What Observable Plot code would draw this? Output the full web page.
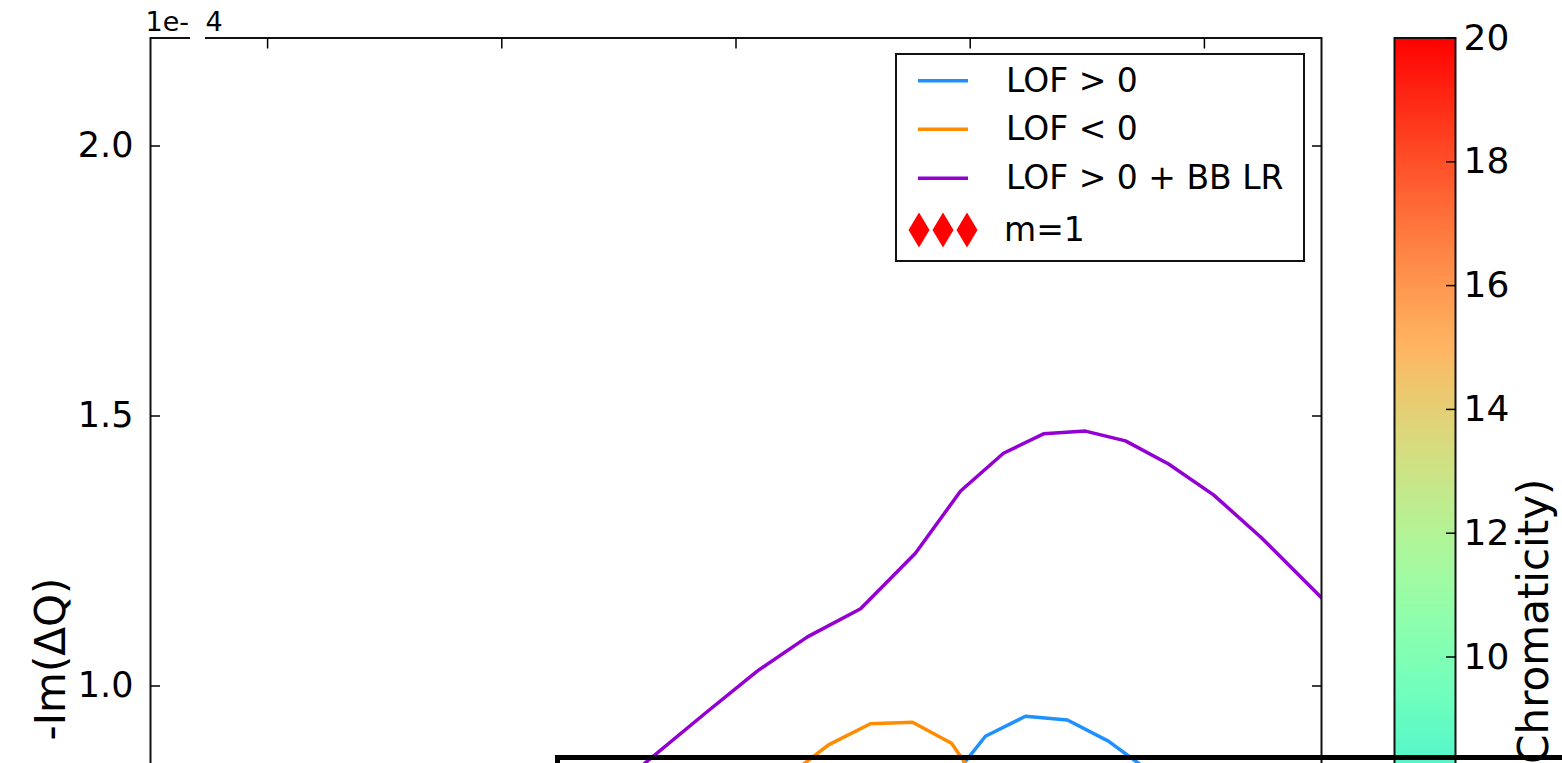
<!DOCTYPE html>
<html><head><meta charset="utf-8">
<script src="https://cdn.jsdelivr.net/npm/d3@7"></script>
<script src="https://cdn.jsdelivr.net/npm/@observablehq/plot@0.6"></script>
<style>
html,body{margin:0;padding:0;background:#fff;overflow:hidden;width:1562px;height:763px;}
#wrap{position:relative;width:1562px;height:763px;overflow:hidden;font-family:"DejaVu Sans",sans-serif;background:#fff;}
#wrap > svg, #wrap > div{position:absolute;}
</style></head>
<body><div id="wrap"></div>
<script>
// ---- data (x in plot units, y in units of 1e-4) ----
const lofPosX = [0.877, 1.065, 1.236, 1.415, 1.590, 1.885];
const lofPosY = [0.804, 0.907, 0.944, 0.937, 0.898, 0.804];
const lofNegX = [0.134, 0.395, 0.574, 0.754, 0.920, 1.065];
const lofNegY = [0.804, 0.891, 0.930, 0.933, 0.894, 0.804];
const lofBBX = [-0.579, -0.130, 0.092, 0.305, 0.532, 0.766, 0.959, 1.142, 1.313, 1.492, 1.663, 1.847, 2.039, 2.240, 2.667];
const lofBBY = [0.789, 0.950, 1.028, 1.091, 1.143, 1.246, 1.361, 1.431, 1.467, 1.472, 1.454, 1.411, 1.354, 1.276, 1.091];
const seriesNames = ["LOF > 0", "LOF < 0", "LOF > 0 + BB LR"];
const seriesColors = ["#1e90ff", "#ff8c00", "#9400d3"];
const markerLabel = "m=1";
const yTicks = [1.0, 1.5, 2.0];
const xTicks = [-2, -1, 0, 1, 2];
const cbTicks = [10, 12, 14, 16, 18, 20];
const cbDomain = [0, 20];

function mplRainbow(t) {
  const r = Math.min(1, Math.abs(2 * t - 0.5));
  const g = Math.max(0, Math.sin(Math.PI * t));
  const b = Math.max(0, Math.cos(Math.PI * t / 2));
  return `rgb(${Math.round(r * 255)},${Math.round(g * 255)},${Math.round(b * 255)})`;
}

const toRows = (xs, ys) => xs.map((x, i) => ({x, y: ys[i]}));
const series = [toRows(lofPosX, lofPosY), toRows(lofNegX, lofNegY), toRows(lofBBX, lofBBY)];

const wrap = document.getElementById("wrap");
const font = "DejaVu Sans";

const main = Plot.plot({
  width: 1340, height: 1330,
  marginLeft: 150, marginRight: 19, marginTop: 37.5, marginBottom: 50.5,
  x: {domain: [-2.5, 2.5]},
  y: {domain: [-0.1, 2.2]},
  style: {fontFamily: font, fontSize: "35px", color: "#000", background: "transparent", overflow: "visible"},
  marks: [
    ...series.map((d, i) => Plot.line(d, {x: "x", y: "y", stroke: seriesColors[i], strokeWidth: 3.5, clip: true})),
    Plot.frame({stroke: "#111", strokeWidth: 2}),
    Plot.axisY(yTicks, {anchor: "left", tickSize: -10, tickPadding: 27, tickFormat: d3.format(".1f"), label: null, fontSize: 35, strokeWidth: 1.5}),
    Plot.axisY(yTicks, {anchor: "right", tickSize: -10, tickFormat: () => "", label: null, strokeWidth: 1.5}),
    Plot.axisX(xTicks, {anchor: "top", tickSize: -10, tickFormat: () => "", label: null, strokeWidth: 1.5}),
    Plot.axisX(xTicks, {anchor: "bottom", tickSize: -10, tickFormat: () => "", label: null, strokeWidth: 1.5}),
    Plot.text(["-Im(ΔQ)"], {frameAnchor: "left", dx: -99, rotate: -90, textAnchor: "middle", lineAnchor: "middle", fontSize: 42, fill: "#000"}),
    Plot.text(["1e-"], {frameAnchor: "top-left", dx: -5, dy: -16, textAnchor: "start", lineAnchor: "middle", fontSize: 27, fill: "#000"}),
    Plot.text(["4"], {frameAnchor: "top-left", dx: 55, dy: -16, textAnchor: "start", lineAnchor: "middle", fontSize: 27, fill: "#000"})
  ]
});
main.style.left = "0px"; main.style.top = "0px";
wrap.appendChild(main);

// white gap in top spine (as in the reference)
const gap = document.createElement("div");
Object.assign(gap.style, {left: "190px", top: "34px", width: "15px", height: "7px", background: "#fff"});
wrap.appendChild(gap);

// colorbar
const step = 0.05;
const cb = Plot.plot({
  width: 182, height: 1330,
  marginLeft: 14, marginRight: 107, marginTop: 37.5, marginBottom: 54.5,
  x: {domain: [0, 1], axis: null},
  y: {domain: cbDomain},
  color: {type: "linear", domain: cbDomain, interpolate: mplRainbow},
  style: {fontFamily: font, fontSize: "36px", color: "#000", background: "transparent", overflow: "visible"},
  marks: [
    Plot.rect(d3.range(cbDomain[0], cbDomain[1], step), {x1: 0, x2: 1, y1: d => d, y2: d => Math.min(cbDomain[1], d + step * 1.5), fill: d => d + step / 2, shapeRendering: "crispEdges"}),
    Plot.frame({stroke: "#111", strokeWidth: 2}),
    Plot.axisY(cbTicks, {anchor: "right", tickSize: -10, tickPadding: 18, tickFormat: d3.format("d"), label: null, fontSize: 36, strokeWidth: 1.5}),
    Plot.text(["(Chromaticity)"], {frameAnchor: "top-right", dx: 79, dy: 440.5, rotate: -90, textAnchor: "end", lineAnchor: "middle", fontSize: 42, fill: "#000"})
  ]
});
cb.style.left = "1380px"; cb.style.top = "0px";
wrap.appendChild(cb);

// legend
const leg = d3.create("svg").attr("width", 410).attr("height", 209)
  .style("left", "895px").style("top", "53px").style("position", "absolute");
leg.append("rect").attr("x", 1).attr("y", 1).attr("width", 408).attr("height", 207)
  .attr("fill", "#fff").attr("stroke", "#111").attr("stroke-width", 2);
const rowBase = [38.7, 87.3, 136.3];
const rowMid = [27.7, 76.3, 125.3];
seriesNames.forEach((name, i) => {
  leg.append("line").attr("x1", 23).attr("x2", 73).attr("y1", rowMid[i]).attr("y2", rowMid[i])
    .attr("stroke", seriesColors[i]).attr("stroke-width", 3.5);
  leg.append("text").attr("x", 111).attr("y", rowBase[i]).attr("font-family", font)
    .attr("font-size", 33).attr("fill", "#000").text(name);
});
[24, 48, 72].forEach(cx => {
  leg.append("path").attr("d", `M${cx},${177 - 17.5}L${cx + 10.5},177L${cx},${177 + 17.5}L${cx - 10.5},177Z`).attr("fill", "#ff0000");
});
leg.append("text").attr("x", 109).attr("y", 187.7).attr("font-family", font)
  .attr("font-size", 33).attr("fill", "#000").text(markerLabel);
wrap.appendChild(leg.node());

// thick black overlay box at the bottom
const box = document.createElement("div");
Object.assign(box.style, {left: "555px", top: "755px", width: "1100px", height: "300px", border: "5px solid #000", boxSizing: "border-box"});
wrap.appendChild(box);
</script>
</body></html>
